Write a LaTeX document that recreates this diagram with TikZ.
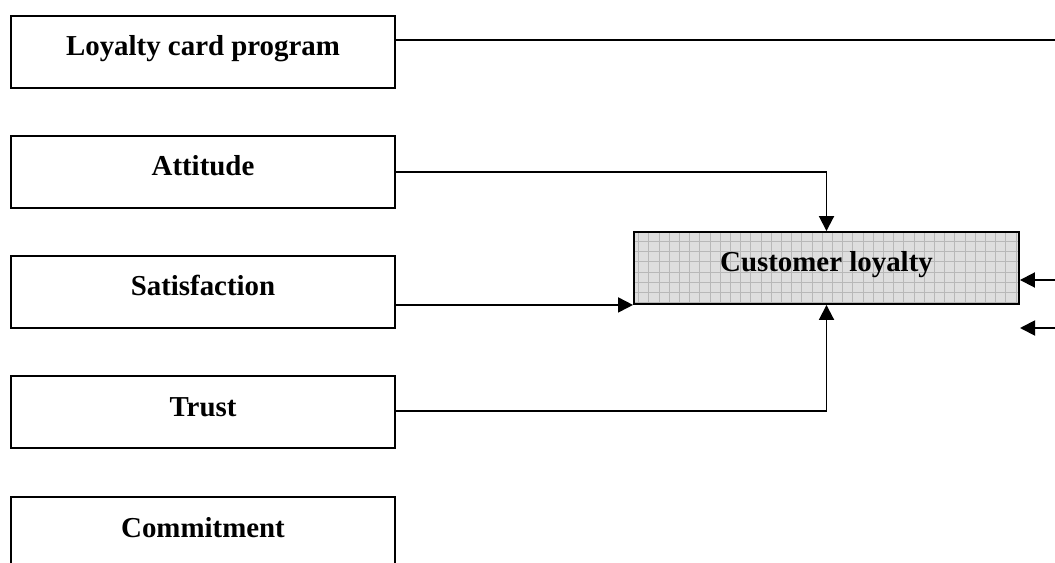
\documentclass[tikz,border=0pt]{standalone}
\usepackage{fontspec}
\setmainfont{Liberation Serif}
\usetikzlibrary{arrows.meta}
\begin{document}
\begin{tikzpicture}[x=1bp,y=-1bp,
  box/.style={draw=black, line width=1.9bp, rectangle, minimum width=384bp, minimum height=72bp,
    inner sep=0pt, font=\fontsize{29}{32}\selectfont\bfseries, text height=20bp, text depth=12bp},
  target/.style={box, minimum width=385bp, fill=black!13,
    path picture={\draw[black!28, line width=0.8bp, step=10.2bp]
      (path picture bounding box.south west) grid (path picture bounding box.north east);}},
  link/.style={line width=1.9bp},
  arr/.style={link, -{Triangle[length=15bp,width=15bp]}}
]
\useasboundingbox (0,0) rectangle (1055,563);
\clip (0,0) rectangle (1055,563);
\node[box] (lcp) at (203,52) {Loyalty card program};
\node[box] (att) at (203,172) {Attitude};
\node[box] (sat) at (203,292) {Satisfaction};
\node[box] (tru) at (203,412) {Trust};
\node[box] (com) at (203,533) {Commitment};
\node[target] (cl) at (826.5,268) {Customer loyalty};
\coordinate (lcpend) at (1055,40);
\coordinate (r1) at (1055,280);
\coordinate (r2) at (1055,328);
\coordinate (r2end) at (1020,328);
\draw[link] (lcp.east |- lcpend) -- (lcpend);
\draw[arr] (att.east |- 0,172) -| (cl.north);
\draw[arr] (sat.east |- cl.south) -- (cl.south west);
\draw[arr] (tru.east |- 0,411) -| (cl.south);
\draw[arr] (r1) -- (cl.east |- r1);
\draw[arr] (r2) -- (r2end);
\end{tikzpicture}
\end{document}
